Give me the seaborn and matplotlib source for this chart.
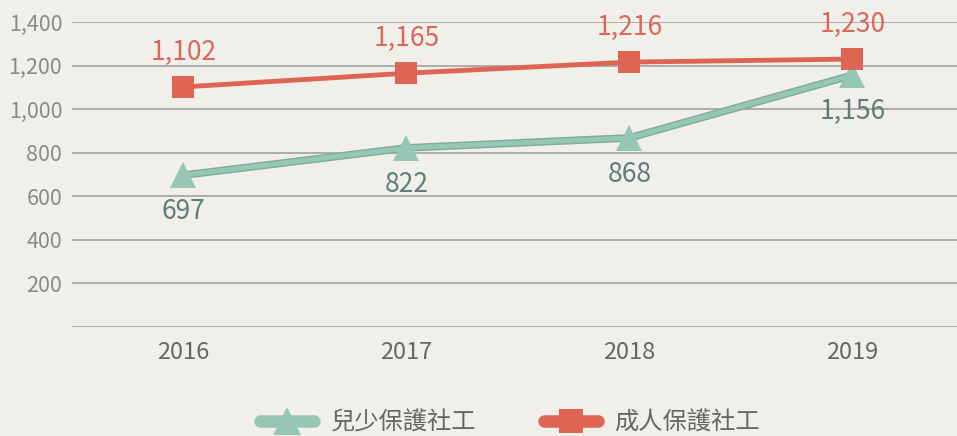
import pandas as pd
import matplotlib.pyplot as plt
import seaborn as sns

years = [2016, 2017, 2018, 2019]
child_workers = [697, 822, 868, 1156]
adult_workers = [1102, 1165, 1216, 1230]
series_names = ['兒少保護社工', '成人保護社工']
yticks = [200, 400, 600, 800, 1000, 1200, 1400]

df = pd.DataFrame({
    'year': years * 2,
    'count': child_workers + adult_workers,
    'series': [series_names[0]] * 4 + [series_names[1]] * 4,
})

bg = '#f0efea'
teal = '#95c6b6'
red = '#de6453'

sns.set_style('white')
plt.rcParams['font.family'] = ['Noto Sans CJK TC', 'DejaVu Sans']

fig = plt.figure(figsize=(9.57, 4.36), dpi=100, facecolor=bg)
ax = fig.add_axes([0.0752, 0.25, 0.925, 0.6995], facecolor=bg)

# darker rim under the teal line
ax.plot(years, child_workers, color='#7eac9f', linewidth=5.5, zorder=1.9,
        solid_capstyle='round')
ax = sns.lineplot(data=df, x='year', y='count', hue='series', style='series',
                  palette={series_names[0]: teal, series_names[1]: red},
                  markers={series_names[0]: '^', series_names[1]: 's'},
                  dashes=False, linewidth=3.5, markersize=16, markeredgewidth=0,
                  ax=ax, legend=False)
for line in ax.lines:
    if line.get_marker() == '^':
        line.set_markersize(19)

for x, y in zip(years, child_workers):
    ax.annotate(f'{y:,}', (x, y), xytext=(0, -26), textcoords='offset points',
                ha='center', va='center', fontsize=19, color='#5f7b7d')
for x, y in zip(years, adult_workers):
    ax.annotate(f'{y:,}', (x, y), xytext=(0, 25), textcoords='offset points',
                ha='center', va='center', fontsize=19, color='#d9675a')

ax.set_xlim(2015.5, 2016 + 3.47)
ax.set_ylim(0, 1400)
ax.set_xticks(years)
ax.set_xticklabels([str(y) for y in years], color='#666666', fontsize=17)
ax.set_yticks([0] + yticks)
ax.set_yticklabels([''] + [f'{v:,}' for v in yticks], color='#8a8a8a', fontsize=15.5)
ax.grid(axis='y', color='#a8a8a8', linewidth=1.3)
ax.tick_params(axis='y', length=0, pad=7)
ax.tick_params(axis='x', length=0, pad=10)
sns.despine(left=True, bottom=True, right=True, top=True)
ax.set_xlabel('')
ax.set_ylabel('')
ax.set_axisbelow(True)

handles = [
    plt.Line2D([], [], color=teal, marker='^', markersize=20, linewidth=9, markeredgewidth=0,
               solid_capstyle='round'),
    plt.Line2D([], [], color=red, marker='s', markersize=17, linewidth=9, markeredgewidth=0,
               solid_capstyle='round'),
]
fig.legend(handles, series_names, loc='center', bbox_to_anchor=(0.533, 0.03), ncol=2,
           frameon=False, fontsize=17.5, labelcolor='#666666', handlelength=2.2,
           handletextpad=0.7, columnspacing=2.8)

fig.savefig('out.png', dpi=100, facecolor=bg)
